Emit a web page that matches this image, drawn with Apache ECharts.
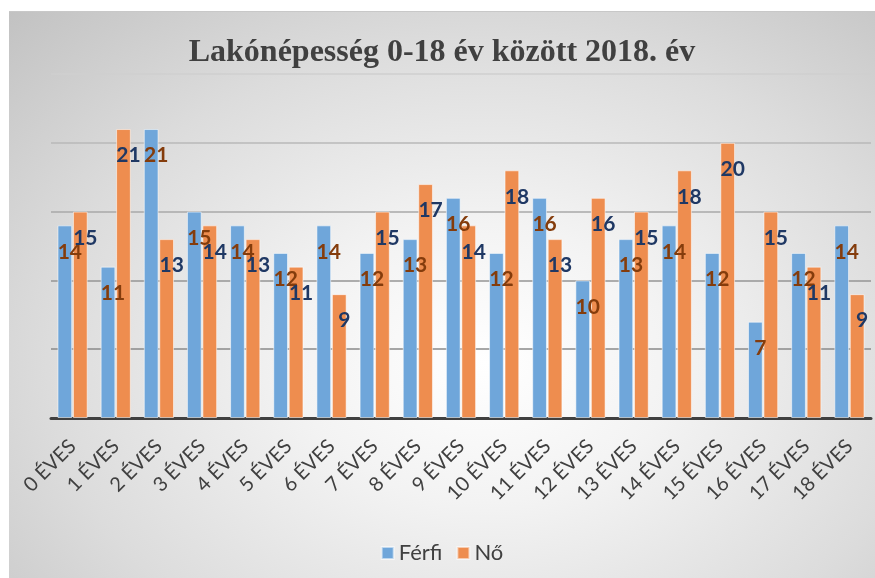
<!DOCTYPE html>
<html>
<head>
<meta charset="utf-8">
<script src="https://cdn.jsdelivr.net/npm/echarts@6/dist/echarts.min.js"></script>
<style>
  html, body { margin: 0; padding: 0; background: #fff; }
  #chart {
    position: absolute;
    left: 9px;
    top: 11px;
    width: 866px;
    height: 567px;
    background: radial-gradient(ellipse farthest-corner at 55% 62%, #ffffff 0%, #f3f3f3 28%, #dcdcdc 65%, #c2c2c2 100%);
    border-top: 1px solid #c8c8c8;
    box-sizing: border-box;
  }
</style>
</head>
<body>
<div id="chart"></div>
<script>
const categories = ["0 ÉVES", "1 ÉVES", "2 ÉVES", "3 ÉVES", "4 ÉVES", "5 ÉVES", "6 ÉVES", "7 ÉVES", "8 ÉVES", "9 ÉVES",
  "10 ÉVES", "11 ÉVES", "12 ÉVES", "13 ÉVES", "14 ÉVES", "15 ÉVES", "16 ÉVES", "17 ÉVES", "18 ÉVES"];
const ferfi = [14, 11, 21, 15, 14, 12, 14, 12, 13, 16, 12, 16, 10, 13, 14, 12, 7, 12, 14];
const no = [15, 21, 13, 14, 13, 11, 9, 15, 17, 14, 18, 13, 16, 15, 18, 20, 15, 11, 9];

const chart = echarts.init(document.getElementById("chart"));

const labelFor = (color) => ({
  show: true,
  position: "insideTop",
  distance: 0,
  offset: [5, 16],
  color: color,
  fontFamily: "Lato",
  fontWeight: "bold",
  fontSize: 21
});

chart.setOption({
  backgroundColor: "transparent",
  animation: false,
  title: {
    text: "Lakónépesség 0-18 év között 2018. év",
    left: "center",
    top: 20,
    textStyle: {
      fontFamily: "Liberation Serif",
      fontWeight: "bold",
      fontSize: 32,
      color: "#404040"
    }
  },
  legend: {
    data: ["Férfi", "Nő"],
    left: "center",
    top: 525,
    icon: "rect",
    itemWidth: 12,
    itemHeight: 12,
    itemGap: 14,
    textStyle: { fontFamily: "Lato", fontSize: 22, color: "#404040" }
  },
  grid: { left: 42, right: 4, top: 62, bottom: 160 },
  xAxis: {
    type: "category",
    data: categories,
    axisLine: { lineStyle: { color: "#404040", width: 3 } },
    axisTick: { show: false },
    axisLabel: {
      rotate: 45,
      interval: 0,
      margin: 25,
      fontFamily: "Lato",
      fontSize: 20,
      color: "#404040"
    }
  },
  yAxis: {
    type: "value",
    min: 0,
    max: 25,
    interval: 5,
    axisLabel: { show: false },
    axisLine: { show: false },
    axisTick: { show: false },
    splitLine: {
      lineStyle: {
        color: ["#888888", "#8a8a8a", "#959595", "#a8a8a8", "#b8b8b8", "#cfcfcf"],
        width: 1.5
      }
    }
  },
  series: [
    {
      name: "Férfi",
      type: "bar",
      data: ferfi,
      barGap: "5%",
      barCategoryGap: "30%",
      itemStyle: { color: "#6FA6DA", borderColor: "rgba(255,255,255,0.55)", borderWidth: 1 },
      label: labelFor("#843C0C")
    },
    {
      name: "Nő",
      type: "bar",
      data: no,
      itemStyle: { color: "#EE8D4F", borderColor: "rgba(255,255,255,0.55)", borderWidth: 1 },
      label: labelFor("#1F3864")
    }
  ]
});
</script>
</body>
</html>
